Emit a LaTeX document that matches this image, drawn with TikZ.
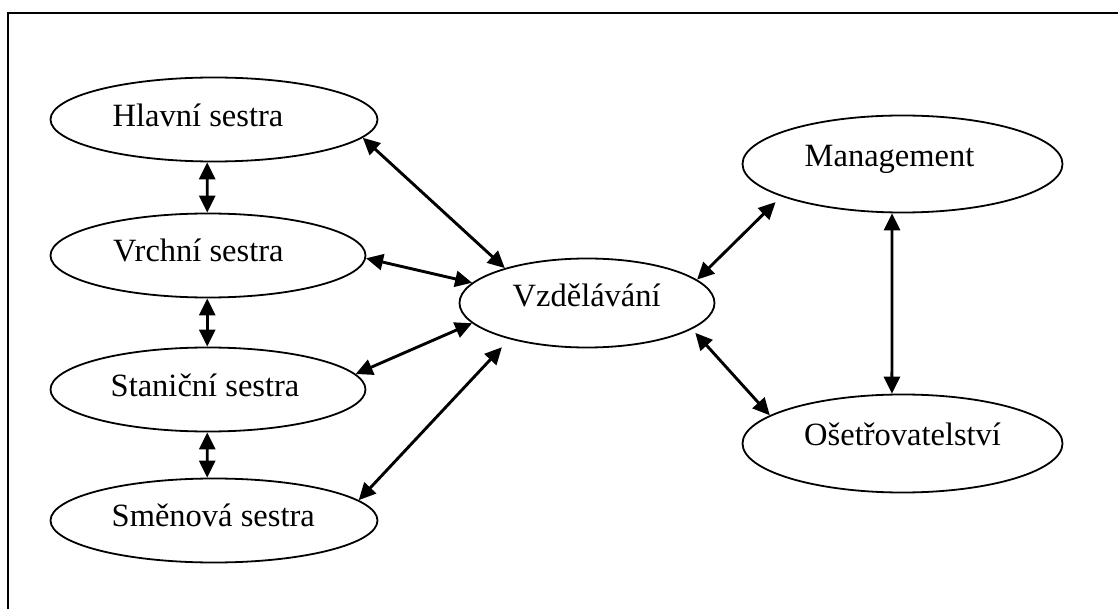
\documentclass[tikz,border=0pt]{standalone}
\usepackage{fontspec}
\setmainfont{Liberation Serif}
\usetikzlibrary{shapes.geometric,arrows.meta}
\begin{document}
\begin{tikzpicture}[x=1pt,y=-1pt,
  oval/.style={ellipse,draw,line width=1.8pt,inner sep=0pt},
  lbl/.style={anchor=base west,inner sep=0pt,font=\fontsize{32.5}{38}\selectfont},
  link/.style={line width=2.9pt,{Triangle[length=17pt,width=16pt]}-{Triangle[length=17pt,width=16pt]}}]
\useasboundingbox (0,0) rectangle (1118,609);
\clip (0,0) rectangle (1118,609);
\draw[line width=1.9pt] (8,13) rectangle (1140,640);
% ellipses
\node[oval,minimum width=327pt,minimum height=84pt] (hs) at (214,119.5) {};
\node[oval,minimum width=315pt,minimum height=84pt] (vs) at (208,255.5) {};
\node[oval,minimum width=315pt,minimum height=84pt] (ss) at (208,389.5) {};
\node[oval,minimum width=327pt,minimum height=84pt] (sm) at (214,520.5) {};
\node[oval,minimum width=255pt,minimum height=89pt] (vz) at (587,303) {};
\node[oval,minimum width=320pt,minimum height=97pt] (ma) at (902.5,164) {};
\node[oval,minimum width=320pt,minimum height=98pt] (os) at (902.5,443.5) {};
% labels
\node[lbl] (hst) at (112.5,127) {Hlavní sestra};
\node[lbl] (vst) at (113,261.7) {Vrchní sestra};
\node[lbl] (sst) at (110.5,396.7) {Staniční sestra};
\node[lbl] (smt) at (111.5,526.7) {Směnová sestra};
\node[lbl] (vzt) at (512.5,306.7) {Vzdělávání};
\node[lbl] (mat) at (804.5,166.7) {Management};
\node[lbl] (ost) at (804,445) {Ošetřovatelství};
% vertical links on the left
\draw[link] (hs.-99.5) -- (vs.91.4);
\draw[link] (vs.-91.4) -- (ss.91.4);
\draw[link] (ss.-91.4) -- (sm.99.5);
% links to Vzdělávání
\draw[link] (hs.-7.1) -- (vz.157.6);
\draw[link] (vs.-1.5) -- (vz.170);
\draw[link] (ss.6.7) -- (vz.-170.1);
\draw[link,shorten >=11pt] (sm.8.6) -- (vz.-155);
\draw[link,shorten >=8pt] (vz.12.4) -- (ma.-165.2);
\draw[link,shorten <=5pt] (vz.-14.9) -- (os.168.3);
% right vertical
\draw[link] (ma.-102) -- (os.102);
\end{tikzpicture}
\end{document}
